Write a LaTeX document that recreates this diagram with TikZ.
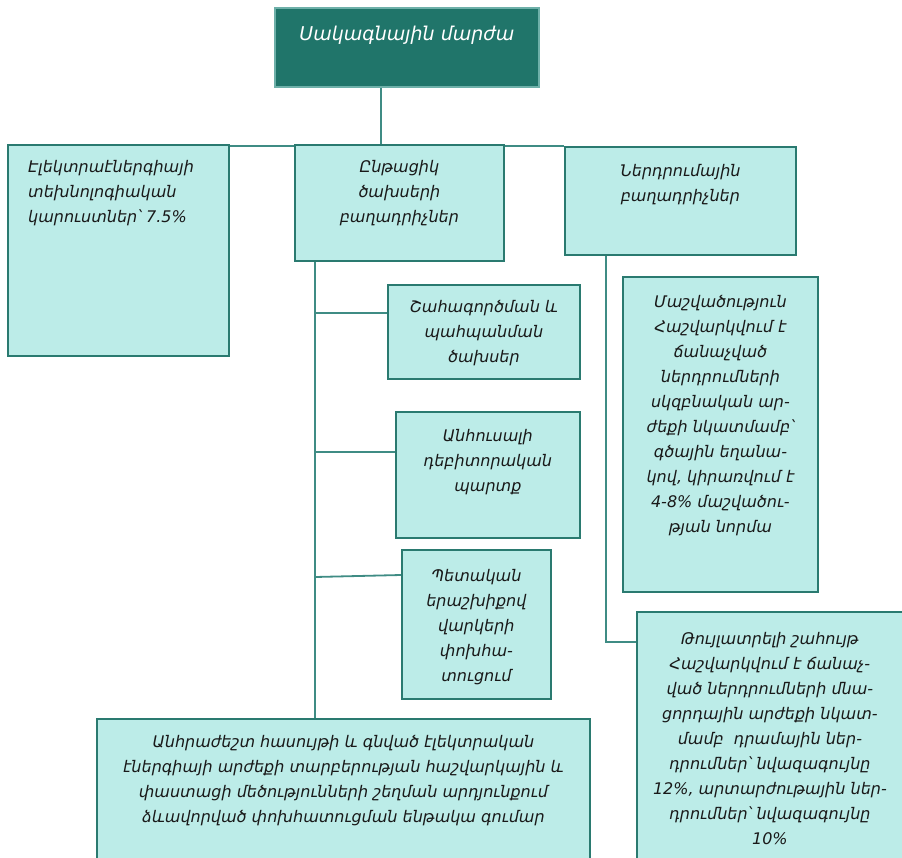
\documentclass[tikz,border=0pt]{standalone}
\usepackage{fontspec}
\newfontfamily\armfont{DejaVu Sans}
\usetikzlibrary{positioning}

\definecolor{headteal}{HTML}{20756A}
\definecolor{cellfill}{HTML}{BCECE8}
\definecolor{celledge}{HTML}{2A7A70}
\definecolor{linkteal}{HTML}{3F8C84}

\tikzset{
  cell/.style={draw=celledge, fill=cellfill, line width=1.8pt, anchor=north west, inner sep=0pt},
  head/.style={cell, fill=headteal, draw=cellfill!50!headteal},
  lbl/.style={font=\armfont\itshape\fontsize{16}{25}\selectfont, align=center, inner sep=0pt, anchor=north, text=black!90},
  link/.style={draw=linkteal, line width=1.8pt},
}

\begin{document}
\begin{tikzpicture}[x=1pt, y=-1pt]
  \useasboundingbox (0,0) rectangle (902,857);

  % Draw the boxes
  \node[head, minimum width=264pt, minimum height=79pt] (margin) at (274,7) {};
  \node[cell, minimum width=221pt, minimum height=211pt] (loss) at (7,144) {};
  \node[cell, minimum width=209pt, minimum height=116pt] (opex) at (294,144) {};
  \node[cell, minimum width=231pt, minimum height=108pt] (invest) at (564,146) {};
  \node[cell, minimum width=192pt, minimum height=94pt] (upkeep) at (387,284) {};
  \node[cell, minimum width=184pt, minimum height=126pt] (baddebt) at (395,411) {};
  \node[cell, minimum width=149pt, minimum height=149pt] (loans) at (401,549) {};
  \node[cell, minimum width=195pt, minimum height=315pt] (deprec) at (622,276) {};
  \node[cell, minimum width=290pt, minimum height=280pt] (profit) at (636,611) {};
  \node[cell, minimum width=493pt, minimum height=160pt] (gap) at (96,718) {};

  % Texts inside the boxes
  \node[lbl, text=white, font=\armfont\itshape\fontsize{19}{25}\selectfont,
        below=19pt of margin.north] (marginText) {Սակագնային մարժա};
  \node[lbl, anchor=north west, align=left] (lossText)
        at ([xshift=21pt, yshift=-16pt]loss.north west)
        {Էլեկտրաէներգիայի\\տեխնոլոգիական\\կարուստներ՝ 7.5\%};
  \node[lbl, below=16pt of opex.north] (opexText)
        {Ընթացիկ\\ծախսերի\\բաղադրիչներ};
  \node[lbl, below=18pt of invest.north] (investText)
        {Ներդրումային\\բաղադրիչներ};
  \node[lbl, below=16pt of upkeep.north] (upkeepText)
        {Շահագործման և\\պահպանման\\ծախսեր};
  \node[lbl, below=18pt of baddebt.north] (baddebtText)
        {Անհուսալի\\դեբիտորական\\պարտք};
  \node[lbl, below=20pt of loans.north] (loansText)
        {Պետական\\երաշխիքով\\վարկերի\\փոխհա-\\տուցում};
  \node[lbl, below=19pt of deprec.north] (deprecText)
        {Մաշվածություն\\Հաշվարկվում է\\ճանաչված\\ներդրումների\\սկզբնական ար-\\ժեքի նկատմամբ՝\\գծային եղանա-\\կով, կիրառվում է\\4-8\% մաշվածու-\\թյան նորմա};
  \node[lbl, below=21pt of profit.north, xshift=-12pt] (profitText)
        {Թույլատրելի շահույթ\\Հաշվարկվում է ճանաչ-\\ված ներդրումների մնա-\\ցորդային արժեքի նկատ-\\մամբ\ \ դրամային ներ-\\դրումներ՝ նվազագույնը\\12\%, արտարժութային ներ-\\դրումներ՝ նվազագույնը\\10\%};
  \node[lbl, below=17pt of gap.north] (gapText)
        {Անհրաժեշտ հասույթի և գնված էլեկտրական\\էներգիայի արժեքի տարբերության հաշվարկային և\\փաստացի մեծությունների շեղման արդյունքում\\ձևավորված փոխհատուցման ենթակա գումար};

  % Draw the connecting lines
  \draw[link] ([xshift=-26pt]margin.south) -- ([xshift=-26pt]margin.south |- opex.north);
  \draw[link] ([yshift=-2pt]loss.north east) -- ([yshift=-2pt]loss.north east -| opex.west);
  \draw[link] ([yshift=-2pt]opex.north east) -- ([yshift=-2pt]opex.north east -| invest.west);

  \coordinate (spine) at ([xshift=21pt]opex.south west);
  \draw[link] (spine) -- (spine |- gap.north);
  \draw[link] (spine |- 0,313) -- ([yshift=-29pt]upkeep.north west);
  \draw[link] (spine |- 0,452) -- ([yshift=-41pt]baddebt.north west);
  \draw[link] (spine |- 0,577) -- ([yshift=-26pt]loans.north west);

  \draw[link] ([xshift=42pt]invest.south west) |- ([yshift=-31pt]profit.north west);
\end{tikzpicture}
\end{document}
